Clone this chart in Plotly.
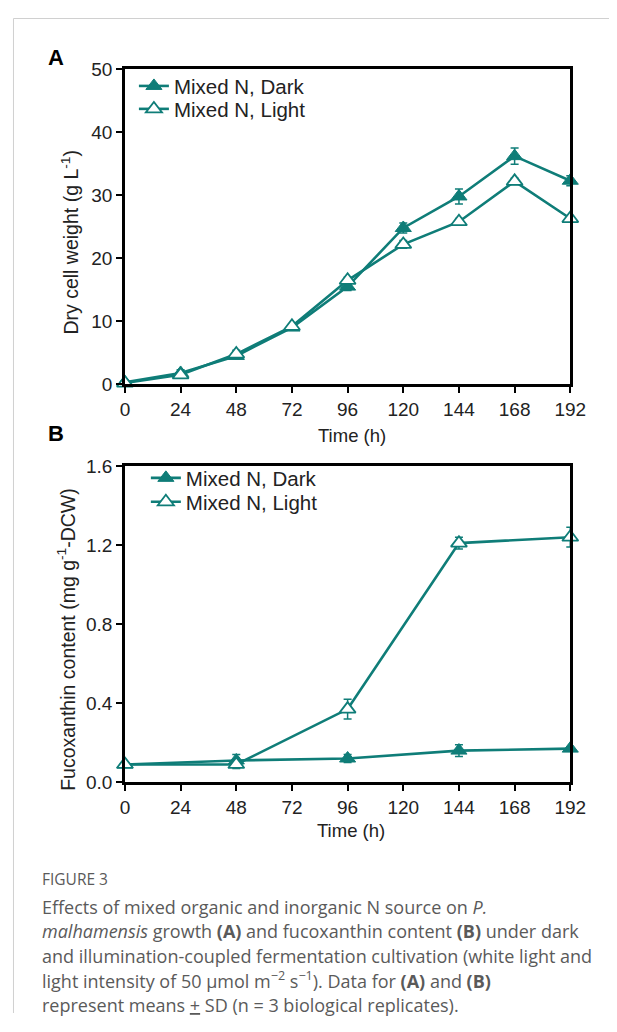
import plotly.graph_objects as go

# ---- data ----
time_h = [0, 24, 48, 72, 96, 120, 144, 168, 192]
dcw_dark = [0.3, 1.8, 4.5, 9.0, 15.5, 24.8, 29.8, 36.2, 32.3]
dcw_dark_sd = [0.2, 0.5, 0.4, 0.4, 0.6, 0.8, 1.2, 1.3, 0.8]
dcw_light = [0.2, 1.5, 4.8, 9.2, 16.5, 22.2, 25.8, 32.2, 26.3]
dcw_light_sd = [0.2, 0.4, 0.6, 0.4, 0.5, 0.6, 0.5, 0.5, 0.4]

fx_time = [0, 48, 96, 144, 192]
fx_dark = [0.09, 0.11, 0.12, 0.16, 0.17]
fx_dark_sd = [0.01, 0.03, 0.02, 0.03, 0.01]
fx_light = [0.09, 0.09, 0.37, 1.21, 1.24]
fx_light_sd = [0.01, 0.02, 0.05, 0.03, 0.05]

x_ticks = [0, 24, 48, 72, 96, 120, 144, 168, 192]
dcw_ticks = [0, 10, 20, 30, 40, 50]
fx_ticks = [0.0, 0.4, 0.8, 1.2, 1.6]
fx_ticklabels = ["0.0", "0.4", "0.8", "1.2", "1.6"]

TEAL = "#0f7d78"
FW, FH = 625, 1016
SX, OX = 0.97, 12.0     # calibration of screen position -> figure position
SY, OY = 0.982, 16.0
FONT = "Liberation Sans, Arial, sans-serif"


def fxp(r):
    return (r / SX - OX) / FW


def fyp(r):
    return 1 - (r / SY - OY) / FH


fig = go.Figure()


def add_pair(xs, dark, dark_sd, light, light_sd, xa, ya, lg_dark, lg_light):
    fig.add_trace(go.Scatter(
        x=xs, y=dark, mode="lines+markers", name="Mixed N, Dark",
        line=dict(color=TEAL, width=2.6), showlegend=True, cliponaxis=False,
        marker=dict(symbol="triangle-up", size=14, color=TEAL, line=dict(color=TEAL, width=1)),
        error_y=dict(type="data", array=dark_sd, visible=True, color=TEAL, thickness=1.5, width=4),
        xaxis=xa, yaxis=ya, legend=lg_dark))
    fig.add_trace(go.Scatter(
        x=xs, y=light, mode="lines+markers", name="Mixed N, Light",
        line=dict(color=TEAL, width=2.6), showlegend=True, cliponaxis=False,
        marker=dict(symbol="triangle-up", size=14, color="white", line=dict(color=TEAL, width=1.8)),
        error_y=dict(type="data", array=light_sd, visible=True, color=TEAL, thickness=1.5, width=4),
        xaxis=xa, yaxis=ya, legend=lg_light))


add_pair(time_h, dcw_dark, dcw_dark_sd, dcw_light, dcw_light_sd, "x", "y", "legend", "legend2")
add_pair(fx_time, fx_dark, fx_dark_sd, fx_light, fx_light_sd, "x2", "y2", "legend3", "legend4")

axis_common = dict(
    showline=True, linecolor="black", linewidth=2.5, mirror=True,
    ticks="outside", ticklen=6, tickwidth=2, tickcolor="black",
    showgrid=False, zeroline=False,
    tickfont=dict(family=FONT, size=19, color="#222"),
)


def leg(xr, yr):
    return dict(x=fxp(xr), y=fyp(yr), xanchor="left", yanchor="middle",
                bgcolor="rgba(0,0,0,0)", font=dict(family=FONT, size=20.5, color="#222"),
                itemwidth=30, borderwidth=0, visible=True)


xdom = [fxp(124), fxp(571)]
fig.update_layout(
    width=FW, height=FH,
    margin=dict(l=0, r=0, t=0, b=0),
    paper_bgcolor="white", plot_bgcolor="white",
    showlegend=True,
    xaxis=dict(domain=xdom, range=[0, 192], tickvals=x_ticks, anchor="y", **axis_common),
    yaxis=dict(domain=[fyp(383), fyp(67)], range=[0, 50], tickvals=dcw_ticks, anchor="x",
               **axis_common),
    xaxis2=dict(domain=xdom, range=[0, 192], tickvals=x_ticks, anchor="y2", **axis_common),
    yaxis2=dict(domain=[fyp(782), fyp(465)], range=[0, 1.6], tickvals=fx_ticks,
                ticktext=fx_ticklabels, anchor="x2", **axis_common),
    legend=leg(133, 84),
    legend2=leg(133, 107),
    legend3=leg(145, 477),
    legend4=leg(145, 501),
)


def ann(text, xr, yr, size, xanchor="center", yanchor="middle", angle=0,
        family=FONT, color="#222"):
    fig.add_annotation(text=text, x=fxp(xr), y=fyp(yr), xref="paper", yref="paper",
                       xanchor=xanchor, yanchor=yanchor, showarrow=False, textangle=angle,
                       font=dict(family=family, size=size, color=color))


# axis titles
ann("Time (h)", 352, 434, 18.5)
ann("Time (h)", 351, 830, 18.5)
ann("Dry cell weight (g L<sup>-1</sup>)", 69, 335, 19.5, yanchor="bottom", angle=-90)
ann("Fucoxanthin content (mg g<sup>-1</sup>-DCW)", 65, 793, 19.5, yanchor="bottom", angle=-90)

# panel letters
ann("<b>A</b>", 45, 55, 22, xanchor="left", color="black")
ann("<b>B</b>", 45, 432, 22, xanchor="left", color="black")

# caption
CAP = "Open Sans, Noto Sans, sans-serif"
CAPC = "#5a5a5a"
ann("FIGURE 3", 39, 879, 15.5, xanchor="left", family=CAP, color=CAPC)
cap_lines = [
    "Effects of mixed organic and inorganic N source on <i>P.</i>",
    "<i>malhamensis</i> growth <b>(A)</b> and fucoxanthin content <b>(B)</b> under dark",
    "and illumination-coupled fermentation cultivation (white light and",
    "light intensity of 50 μmol m<sup>−2</sup> s<sup>−1</sup>). Data for <b>(A)</b> and <b>(B)</b>",
    "represent means <u>+</u> SD (n = 3 biological replicates).",
]
for i, line in enumerate(cap_lines):
    ann(line, 39, 907 + 24.6 * i, 18, xanchor="left", family=CAP, color=CAPC)

# page frame lines (top and left), as close to the page edge as possible
fig.add_shape(type="line", xref="paper", yref="paper", x0=0.5 / FW, x1=1,
              y0=1 - 0.5 / FH, y1=1 - 0.5 / FH, line=dict(color="#d0d0d0", width=1))
fig.add_shape(type="line", xref="paper", yref="paper", x0=0.5 / FW, x1=0.5 / FW,
              y0=1 - 0.5 / FH, y1=0, line=dict(color="#d0d0d0", width=1))

fig.write_html("out.html")
